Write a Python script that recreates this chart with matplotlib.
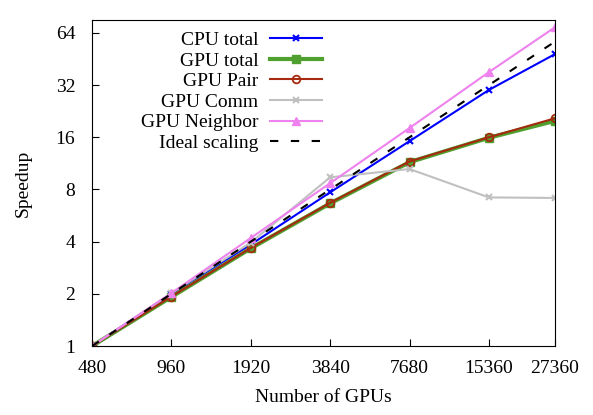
import matplotlib
matplotlib.use("Agg")
import matplotlib.pyplot as plt
from matplotlib.ticker import FixedLocator, FixedFormatter, NullLocator

gpus = [480, 960, 1920, 3840, 7680, 15360, 27360]
x_labels = ["480", "960", "1920", "3840", "7680", "15360", "27360"]
y_ticks = [1, 2, 4, 8, 16, 32, 64]

cpu_total = [1, 2.0, 3.85, 7.7, 15.2, 30.0, 48.3]
gpu_total = [1, 1.92, 3.66, 6.65, 11.5, 15.9, 19.9]
gpu_pair = [1, 1.93, 3.68, 6.7, 11.6, 16.0, 20.6]
gpu_comm = [1, 2.02, 3.95, 9.4, 10.5, 7.2, 7.15]
gpu_neighbor = [1, 2.02, 4.2, 8.7, 18.1, 38.0, 69.0]
ideal = [g / gpus[0] for g in gpus]

plt.rcParams["font.family"] = ["Liberation Serif", "DejaVu Serif"]
plt.rcParams["font.size"] = 14

fig = plt.figure(figsize=(5.93, 4.15), dpi=100)
ax = fig.add_axes([0.155, 0.166, 0.781, 0.786])

ax.plot(gpus, cpu_total, color="#0000ff", lw=1.5, marker="x", ms=4.5, mew=1.5, label="CPU total")
ax.plot(gpus, gpu_total, color="#4fa02f", lw=3, marker="s", ms=6, label="GPU total")
ax.plot(gpus, gpu_pair, color="#a52a0f", lw=1.5, marker="o", ms=5.5, mfc="none", mew=1.3, label="GPU Pair")
ax.plot(gpus, gpu_comm, color="#c0c0c0", lw=1.5, marker="x", ms=4.5, mew=1.5, label="GPU Comm")
ax.plot(gpus, gpu_neighbor, color="#ee82ee", lw=1.5, marker="^", ms=5.5, label="GPU Neighbor")
ax.plot(gpus, ideal, color="black", lw=1.5, ls=(0, (4, 6)), label="Ideal scaling")

ax.set_xscale("log")
ax.set_yscale("log")
ax.set_xlim(480, 27360)
ax.set_ylim(1, 76)
ax.xaxis.set_major_locator(FixedLocator(gpus))
ax.xaxis.set_major_formatter(FixedFormatter(x_labels))
ax.xaxis.set_minor_locator(NullLocator())
ax.yaxis.set_major_locator(FixedLocator(y_ticks))
ax.yaxis.set_major_formatter(FixedFormatter([str(v) for v in y_ticks]))
ax.yaxis.set_minor_locator(NullLocator())
ax.tick_params(direction="in", length=5, width=0.8, labelsize=14)
ax.tick_params(axis="x", pad=10)
ax.tick_params(axis="y", pad=12)

ax.set_xlabel("Number of GPUs", fontsize=14, labelpad=9)
ax.set_ylabel("Speedup", fontsize=14, labelpad=17)

leg = ax.legend(loc="upper left", bbox_to_anchor=(0.08, 1.0), frameon=False, markerfirst=False,
                handlelength=2.7, labelspacing=0.15, fontsize=14, borderaxespad=0.2,
                handletextpad=0.6)
for t in leg.get_texts():
    t.set_ha("right")
leg._legend_box.align = "right"

fig.savefig("out.png", dpi=100)
